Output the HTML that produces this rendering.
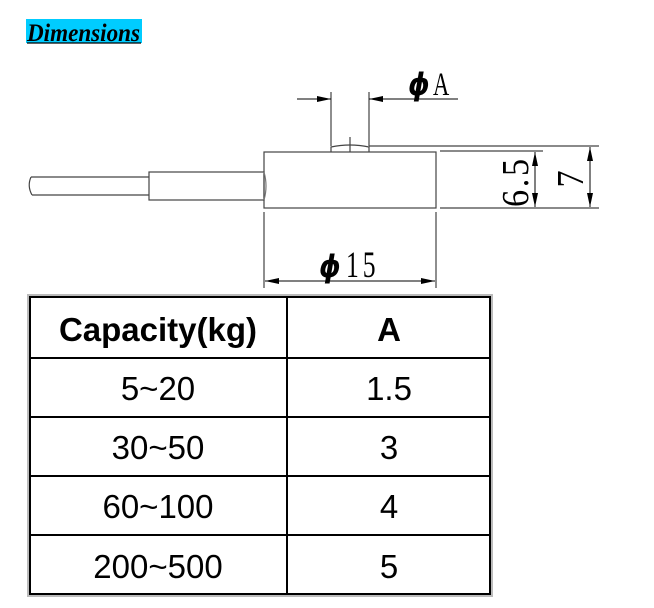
<!DOCTYPE html>
<html><head><meta charset="utf-8"><style>
html,body{margin:0;padding:0;background:#fff;width:654px;height:608px;overflow:hidden}
</style></head><body>
<svg width="654" height="608" viewBox="0 0 654 608" xmlns="http://www.w3.org/2000/svg" style="position:absolute;left:0;top:0">
<defs>
<marker id="ar" markerWidth="14" markerHeight="6" refX="14" refY="3" orient="auto" markerUnits="userSpaceOnUse"><path d="M0,0 L14,3 L0,6 z" fill="#000"/></marker>
</defs>
<rect x="26" y="19" width="116" height="24" fill="#00ccff"/>
<text x="27" y="41" font-family="Liberation Serif" font-style="italic" font-weight="bold" font-size="25" fill="#000" textLength="113" lengthAdjust="spacingAndGlyphs">Dimensions</text>
<line x1="27" y1="43" x2="141" y2="43" stroke="#000" stroke-width="1.2"/>
<g stroke="#444" stroke-width="1.2" fill="none">
<rect x="264" y="152" width="172" height="56"/>
<path d="M331,152 L331,147 Q350,143 369,147 L369,152"/>
<line x1="350" y1="137" x2="350" y2="152"/>
<rect x="149" y="172" width="115" height="28"/>
<path d="M149,177 L31,177 M149,195 L32,195"/>
<path d="M31,177 Q27,186 32,195"/>
<path d="M264,172 Q268,186 264,200" stroke="#777"/>
<line x1="331" y1="92" x2="331" y2="146"/>
<line x1="369" y1="92" x2="369" y2="146"/>
<line x1="369" y1="146" x2="599" y2="146"/>
<line x1="440" y1="151" x2="543" y2="151"/>
<line x1="440" y1="208" x2="599" y2="208"/>
<line x1="264" y1="212" x2="264" y2="288"/>
<line x1="436" y1="212" x2="436" y2="288"/>
</g>
<g stroke="#000" stroke-width="1">
<line x1="297" y1="99" x2="331" y2="99" marker-end="url(#ar)"/>
<line x1="458" y1="99" x2="369" y2="99" marker-end="url(#ar)"/>
<line x1="350" y1="281" x2="265" y2="281" marker-end="url(#ar)"/>
<line x1="350" y1="281" x2="435" y2="281" marker-end="url(#ar)"/>
<line x1="535" y1="180" x2="535" y2="152" marker-end="url(#ar)"/>
<line x1="535" y1="180" x2="535" y2="207" marker-end="url(#ar)"/>
<line x1="590" y1="177" x2="590" y2="147" marker-end="url(#ar)"/>
<line x1="590" y1="177" x2="590" y2="207" marker-end="url(#ar)"/>
</g>
<text transform="translate(408,95) scale(1.05,1.2)" font-family="DejaVu Sans" font-weight="bold" font-style="italic" font-size="26" fill="#000">ϕ</text>
<text transform="translate(433,95) scale(0.75,1.1)" font-family="Liberation Serif" font-size="30" fill="#000">A</text>
<text transform="translate(319,277) scale(1.05,1.2)" font-family="DejaVu Sans" font-weight="bold" font-style="italic" font-size="26" fill="#000">ϕ</text>
<text transform="translate(346,277) scale(0.8,1.15)" font-family="Liberation Serif" font-size="32" fill="#000" letter-spacing="5">15</text>
<text transform="translate(528,207) rotate(-90) scale(0.9,1)" font-family="Liberation Serif" font-size="38" fill="#000" letter-spacing="3">6.5</text>
<text transform="translate(583,179) rotate(-90) scale(0.9,1)" font-family="Liberation Serif" font-size="38" fill="#000" text-anchor="middle">7</text>
<rect x="28" y="295" width="464" height="301" fill="none" stroke="#bbb" stroke-width="2"/>
<g stroke="#000" stroke-width="2" fill="none">
<rect x="30" y="297" width="460" height="297"/>
<line x1="287" y1="297" x2="287" y2="594"/>
<line x1="30" y1="358" x2="490" y2="358"/>
<line x1="30" y1="417" x2="490" y2="417"/>
<line x1="30" y1="476" x2="490" y2="476"/>
<line x1="30" y1="535" x2="490" y2="535"/>
</g>
<g font-family="Liberation Sans" font-size="33" fill="#000" text-anchor="middle">
<text x="158" y="341" font-weight="bold">Capacity(kg)</text>
<text x="389" y="341" font-weight="bold">A</text>
<text x="158" y="400">5~20</text><text x="389" y="400">1.5</text>
<text x="158" y="459">30~50</text><text x="389" y="459">3</text>
<text x="158" y="518">60~100</text><text x="389" y="518">4</text>
<text x="158" y="578">200~500</text><text x="389" y="578">5</text>
</g>
</svg>
</body></html>
